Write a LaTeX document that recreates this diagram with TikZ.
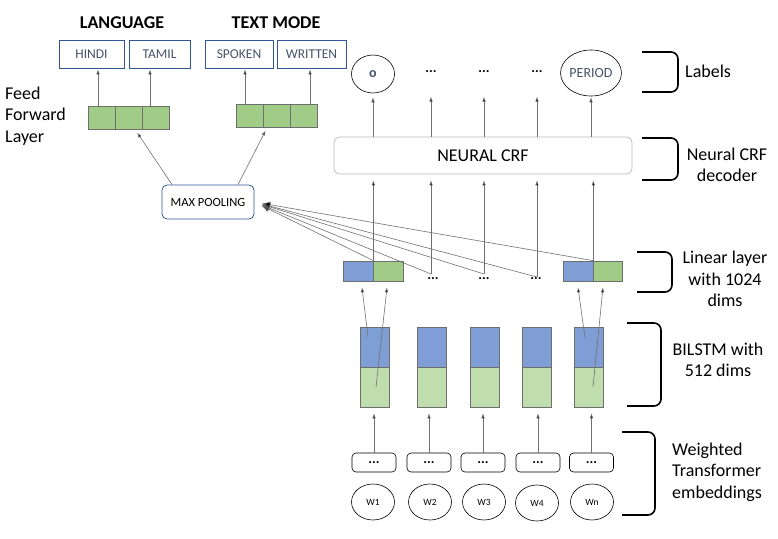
\documentclass[tikz,border=0pt]{standalone}
\usepackage{fontspec}
\setmainfont{Carlito}
\usetikzlibrary{arrows.meta,shapes.geometric,calc}
\definecolor{navy}{HTML}{2F5597}
\definecolor{slate}{HTML}{44546A}
\definecolor{edgegray}{HTML}{6E6E6E}
\definecolor{linegray}{HTML}{707070}
\definecolor{ffgreen}{HTML}{A0CC88}
\definecolor{lstmblue}{HTML}{7F9ED6}
\definecolor{lstmgreen}{HTML}{C0DEAD}

\begin{document}
\begin{tikzpicture}[x=1pt,y=-1pt,
  every node/.style={inner sep=0pt},
  big/.style={font=\fontsize{18}{21.5}\selectfont},
  arr/.style={draw=linegray, line width=0.6pt, -{Latex[length=5pt,width=3.5pt,fill=black]}},
  catbox/.style={draw=navy, line width=0.8pt, minimum width=#1, minimum height=28pt,
    text=slate, font=\fontsize{13.5}{15}\selectfont},
  ffcell/.style={draw=edgegray, fill=ffgreen, line width=0.7pt, minimum width=27pt, minimum height=23pt},
  lincell/.style={draw=edgegray, fill=#1, line width=0.7pt, minimum width=30pt, minimum height=20pt},
  lstmcell/.style={draw=edgegray, fill=#1, line width=0.6pt, minimum width=29pt, minimum height=40pt},
  tokbox/.style={draw, rounded corners=4pt, line width=0.6pt, minimum width=44pt, minimum height=19pt},
  tokcirc/.style={draw, ellipse, line width=0.6pt, minimum width=43pt, minimum height=36pt,
    font=\fontsize{9.5}{10}\selectfont},
  dots/.style={font=\fontsize{14}{14}\selectfont\bfseries},
  brk/.style={draw, line width=1.6pt, rounded corners=7pt}]
  \useasboundingbox (0,0) rectangle (778,538);

  \node[font=\fontsize{18}{21.5}\selectfont\bfseries] (lang) at (122,23) {LANGUAGE};
  \node[font=\fontsize{18}{21.5}\selectfont\bfseries] (tmode) at (276,23) {TEXT MODE};
  \node[catbox=65pt] (hindi) at (91.5,54) {HINDI};
  \node[catbox=61pt] (tamil) at (159.5,54) {TAMIL};
  \node[catbox=68pt] (spoken) at (239,54) {SPOKEN};
  \node[catbox=69pt] (written) at (311.5,54) {WRITTEN};

  \node[ffcell] (f1) at (101.5,117.5) {};
  \node[ffcell] (f2) at (128.5,117.5) {};
  \node[ffcell] (f3) at (156,117.5) {};
  \node[ffcell] (f4) at (249.5,116) {};
  \node[ffcell] (f5) at (276.5,116) {};
  \node[ffcell] (f6) at (303.5,116) {};
  \node[big, anchor=west, align=left] (ffl) at (5,116) {Feed\\Forward\\Layer};

  \draw[arr, shorten >=1pt] ($(f1.north)+(-3.5,0)$) -- ($(f1.north |- hindi.south)+(-3.5,0)$);
  \draw[arr, shorten >=1pt] ($(f3.north)+(-6,0)$) -- ($(f3.north |- tamil.south)+(-6,0)$);
  \draw[arr, shorten >=1pt] ($(f4.north)+(-4.5,0)$) -- ($(f4.north |- spoken.south)+(-4.5,0)$);
  \draw[arr, shorten >=1pt] ($(f6.north)+(6.5,0)$) -- ($(f6.north |- written.south)+(6.5,0)$);

  \node[draw=navy, line width=0.8pt, rounded corners=5pt, minimum width=92pt, minimum height=34pt,
    font=\fontsize{12.5}{14}\selectfont] (maxpool) at (208,202) {MAX POOLING};
  \draw[arr, shorten >=4pt] ($(maxpool.north)+(-36,0)$) -- ($(f2.south)+(6.5,0)$);
  \draw[arr, shorten >=3pt] ($(maxpool.north)+(30,0)$) -- ($(f5.south)+(-9.5,0)$);

  \node[draw, ellipse, line width=0.6pt, minimum width=43pt, minimum height=38pt, text=slate,
    font=\fontsize{14}{15}\selectfont\bfseries] (lab1) at (373,74) {o};
  \node[dots] (lab2) at (431,72) {...};
  \node[dots] (lab3) at (484,72) {...};
  \node[dots] (lab4) at (537,72) {...};
  \node[draw, ellipse, line width=0.6pt, minimum width=48pt, minimum height=46pt, text=slate,
    font=\fontsize{14}{15}\selectfont] (lab5) at (591,73) {PERIOD};

  \node[draw=gray!55, line width=0.7pt, rounded corners=6pt, minimum width=298pt, minimum height=37pt,
    big] (crf) at (483,155.5) {NEURAL CRF};

  \draw[arr, shorten >=4pt] (crf.north -| lab1) -- (lab1.south);
  \draw[arr] (crf.north -| lab2) -- ++(0,-40);
  \draw[arr] (crf.north -| lab3) -- ++(0,-40);
  \draw[arr] (crf.north -| lab4) -- ++(0,-40);
  \draw[arr, shorten >=1pt] (crf.north -| lab5) -- (lab5.south);

  \node[lincell=lstmblue] (lb1) at (358,271) {};
  \node[lincell=ffgreen] (lg1) at (388,271) {};
  \node[lincell=lstmblue] (lb5) at (578,271) {};
  \node[lincell=ffgreen, minimum width=29pt] (lg5) at (607.5,271) {};
  \node[dots] (ld2) at (433,279) {...};
  \node[dots] (ld3) at (484,279) {...};
  \node[dots] (ld4) at (536,279) {...};
  \coordinate (t1) at (lb1.north east);
  \coordinate (t2) at (431,274);
  \coordinate (t3) at (484,274);
  \coordinate (t4) at (537,277);
  \coordinate (t5) at (lb5.north east);

  \foreach \t in {t1,t2,t3,t4,t5}
    \draw[arr, shorten >=6pt] (\t) -- (\t |- crf.south);
  \foreach \t in {t1,t2,t3,t4,t5}
    \draw[draw=linegray, line width=0.6pt, -{Latex[length=8pt,width=6pt,fill=black]}, shorten >=8pt] (\t) -- (maxpool.east);

  \node[lstmcell=lstmblue] (bl1) at (374.5,347) {};
  \node[lstmcell=lstmgreen] (gr1) at (374.5,387) {};
  \node[lstmcell=lstmblue] (bl2) at (431.5,347) {};
  \node[lstmcell=lstmgreen] (gr2) at (431.5,387) {};
  \node[lstmcell=lstmblue] (bl3) at (484.5,347) {};
  \node[lstmcell=lstmgreen] (gr3) at (484.5,387) {};
  \node[lstmcell=lstmblue] (bl4) at (537,347) {};
  \node[lstmcell=lstmgreen] (gr4) at (537,387) {};
  \node[lstmcell=lstmblue] (bl5) at (589,347) {};
  \node[lstmcell=lstmgreen] (gr5) at (589,387) {};

  \draw[arr] ($(bl1)+(-6.5,-10)$) -- ($(lb1.south)+(4,6)$);
  \draw[arr] ($(gr1)+(1.5,0)$) -- ($(lg1.south)+(-1,6)$);
  \draw[arr] ($(bl5)+(-4,-9)$) -- ($(lb5.south)+(0,6)$);
  \draw[arr] ($(gr5)+(4,0)$) -- ($(lg5.south)+(-4.5,6)$);

  \node[tokbox, dots] (dt1) at (374,462.5) {...};
  \node[tokbox, dots] (dt2) at (429,462.5) {...};
  \node[tokbox, dots] (dt3) at (483,462.5) {...};
  \node[tokbox, dots] (dt4) at (538,462.5) {...};
  \node[tokbox, dots] (dt5) at (591.5,462.5) {...};
  \foreach \i in {1,...,5}
    \draw[arr, shorten >=6pt] (dt\i.north) -- (dt\i.north |- gr\i.south);

  \node[tokcirc] (w1) at (373,502) {W1};
  \node[tokcirc] (w2) at (430,502) {W2};
  \node[tokcirc] (w3) at (484,502) {W3};
  \node[tokcirc] (w4) at (537,503) {W4};
  \node[tokcirc] (w5) at (592,502) {Wn};

  \draw[brk] (642,52) -- (678,52) -- (678,92) -- (642,92);
  \draw[brk] (642,138) -- (678,138) -- (678,180) -- (642,180);
  \draw[brk] (637,252) -- (672,252) -- (672,292) -- (637,292);
  \draw[brk] (627,323) -- (661,323) -- (661,406) -- (627,406);
  \draw[brk] (622,432) -- (655,432) -- (655,515) -- (622,515);

  \node[big, anchor=west] (tlab) at (685,71) {Labels};
  \node[big, align=center] (tcrf) at (727,165) {Neural CRF\\decoder};
  \node[big, align=center] (tlin) at (725,279) {Linear layer\\with 1024\\dims};
  \node[big, align=center] (tlstm) at (718,360) {BILSTM with\\512 dims};
  \node[big, anchor=west, align=left] (temb) at (672,472) {Weighted\\Transformer\\embeddings};
\end{tikzpicture}
\end{document}
